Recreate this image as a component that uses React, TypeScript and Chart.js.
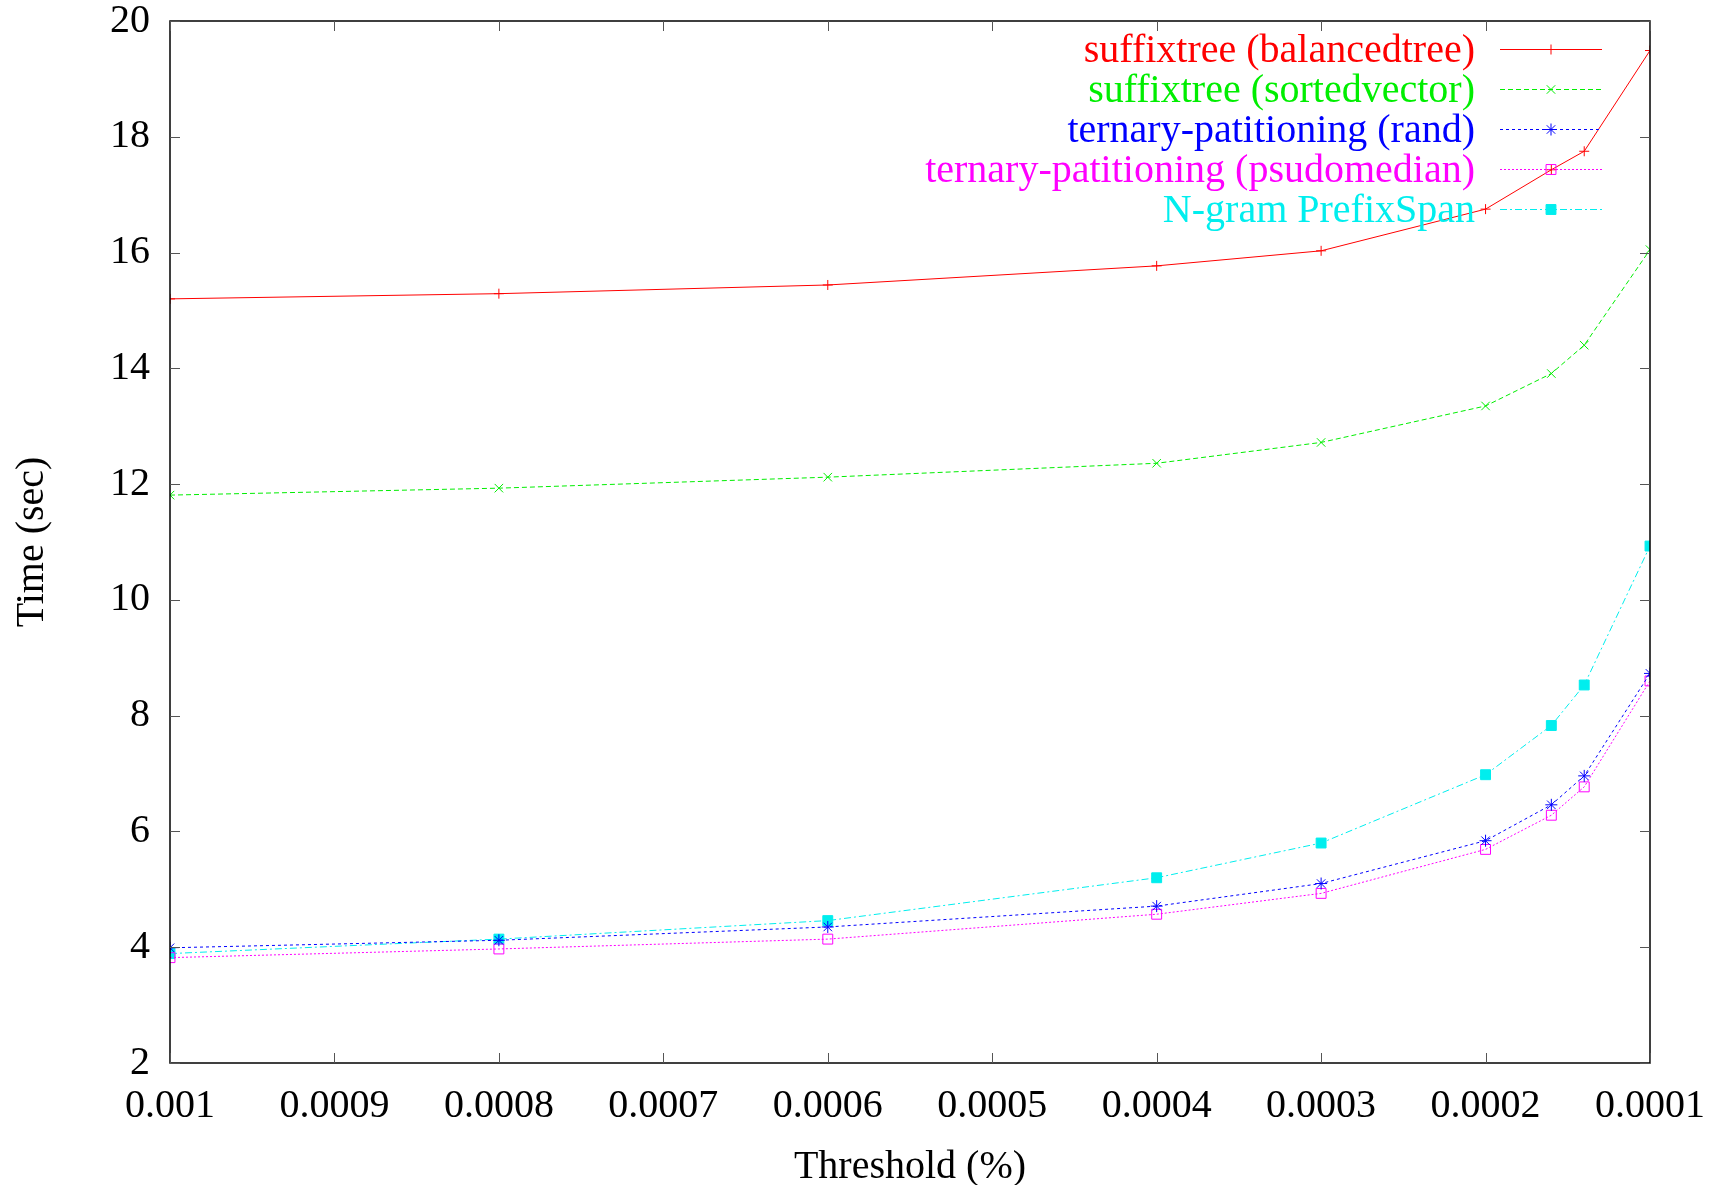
import React, { useEffect, useRef } from "react";
import { Chart, registerables } from "chart.js";

Chart.register(...registerables);

const THRESHOLDS = [0.001, 0.0008, 0.0006, 0.0004, 0.0003, 0.0002, 0.00016, 0.00014, 0.0001];
const BALANCED_TREE = [15.2, 15.29, 15.44, 15.77, 16.03, 16.75, 17.43, 17.75, 19.49];
const SORTED_VECTOR = [11.81, 11.93, 12.12, 12.36, 12.72, 13.35, 13.91, 14.4, 16.05];
const TERNARY_RAND = [3.99, 4.12, 4.35, 4.71, 5.1, 5.84, 6.46, 6.96, 8.73];
const TERNARY_PSUDOMEDIAN = [3.82, 3.97, 4.14, 4.57, 4.93, 5.69, 6.28, 6.77, 8.6];
const NGRAM_PREFIXSPAN = [3.89, 4.14, 4.46, 5.2, 5.8, 6.98, 7.83, 8.53, 10.93];

const SERIES_LABELS = [
  "suffixtree (balancedtree)",
  "suffixtree (sortedvector)",
  "ternary-patitioning (rand)",
  "ternary-patitioning (psudomedian)",
  "N-gram PrefixSpan",
];

const X_TICKS = [0.001, 0.0009, 0.0008, 0.0007, 0.0006, 0.0005, 0.0004, 0.0003, 0.0002, 0.0001];
const Y_TICKS = [2, 4, 6, 8, 10, 12, 14, 16, 18, 20];
const X_TITLE = "Threshold (%)";
const Y_TITLE = "Time (sec)";

const FONT = "'Liberation Serif', 'DejaVu Serif', 'Times New Roman', serif";

type Style = {
  color: string;
  dash: number[];
  marker: string;
  radius: number;
  fill: boolean;
};

const STYLES: Style[] = [
  { color: "#ff0000", dash: [], marker: "cross", radius: 5, fill: false },
  { color: "#00ee00", dash: [5, 3], marker: "crossRot", radius: 6, fill: false },
  { color: "#0000ff", dash: [3, 3], marker: "star", radius: 6, fill: false },
  { color: "#ff00ff", dash: [2, 2], marker: "rect", radius: 7, fill: false },
  { color: "#00eeee", dash: [7, 3, 2, 3], marker: "rect", radius: 7, fill: true },
];

const SERIES = [BALANCED_TREE, SORTED_VECTOR, TERNARY_RAND, TERNARY_PSUDOMEDIAN, NGRAM_PREFIXSPAN];

function fmtX(v: number): string {
  return String(parseFloat(Number(v).toFixed(5)));
}

function drawMarker(ctx: CanvasRenderingContext2D, s: Style, x: number, y: number) {
  ctx.save();
  ctx.setLineDash([]);
  ctx.strokeStyle = s.color;
  ctx.fillStyle = s.color;
  ctx.lineWidth = 1;
  const r = s.radius;
  ctx.beginPath();
  if (s.marker === "cross") {
    ctx.moveTo(x - r, y);
    ctx.lineTo(x + r, y);
    ctx.moveTo(x, y - r);
    ctx.lineTo(x, y + r);
    ctx.stroke();
  } else if (s.marker === "crossRot") {
    const o = r * Math.SQRT1_2;
    ctx.moveTo(x - o, y - o);
    ctx.lineTo(x + o, y + o);
    ctx.moveTo(x - o, y + o);
    ctx.lineTo(x + o, y - o);
    ctx.stroke();
  } else if (s.marker === "star") {
    const o = r * Math.SQRT1_2;
    ctx.moveTo(x - o, y - o);
    ctx.lineTo(x + o, y + o);
    ctx.moveTo(x - o, y + o);
    ctx.lineTo(x + o, y - o);
    ctx.moveTo(x - r, y);
    ctx.lineTo(x + r, y);
    ctx.moveTo(x, y - r);
    ctx.lineTo(x, y + r);
    ctx.stroke();
  } else {
    const h = r * Math.SQRT1_2;
    ctx.rect(x - h, y - h, 2 * h, 2 * h);
    if (s.fill) ctx.fill();
    ctx.stroke();
  }
  ctx.restore();
}

const framePlugin = {
  id: "frameAndLegend",
  afterDatasetsDraw(chart: any) {
    const ctx: CanvasRenderingContext2D = chart.ctx;
    const { left, right, top, bottom } = chart.chartArea;
    const xs = chart.scales.x;
    const ys = chart.scales.y;
    const tl = 10;
    ctx.save();
    ctx.setLineDash([]);
    ctx.strokeStyle = "#000";
    ctx.lineWidth = 1.5;
    ctx.strokeRect(left, top, right - left, bottom - top);
    ctx.lineWidth = 1;
    ctx.strokeStyle = "#555";
    ctx.beginPath();
    X_TICKS.forEach((v) => {
      const px = Math.round(xs.getPixelForValue(v)) + 0.5;
      ctx.moveTo(px, bottom);
      ctx.lineTo(px, bottom - tl);
      ctx.moveTo(px, top);
      ctx.lineTo(px, top + tl);
    });
    Y_TICKS.forEach((v) => {
      const py = Math.round(ys.getPixelForValue(v)) + 0.5;
      ctx.moveTo(left, py);
      ctx.lineTo(left + tl, py);
      ctx.moveTo(right, py);
      ctx.lineTo(right - tl, py);
    });
    ctx.stroke();

    // axis titles
    ctx.fillStyle = "#000";
    ctx.font = `40px ${FONT}`;
    ctx.textAlign = "center";
    ctx.textBaseline = "alphabetic";
    ctx.fillText(X_TITLE, (left + right) / 2, 1178);
    ctx.save();
    ctx.translate(43, (top + bottom) / 2);
    ctx.rotate(-Math.PI / 2);
    ctx.fillText(Y_TITLE, 0, 0);
    ctx.restore();

    // legend
    const textRight = 1475;
    const lineL = 1500;
    const lineR = 1602;
    const markX = 1551;
    SERIES_LABELS.forEach((label, i) => {
      const s = STYLES[i];
      const y = 49 + i * 40;
      ctx.fillStyle = s.color;
      ctx.textAlign = "right";
      ctx.textBaseline = "middle";
      ctx.font = `40px ${FONT}`;
      ctx.fillText(label, textRight, y + 2);
      ctx.strokeStyle = s.color;
      ctx.lineWidth = 1;
      ctx.setLineDash(s.dash);
      ctx.beginPath();
      ctx.moveTo(lineL, y + 0.5);
      ctx.lineTo(lineR, y + 0.5);
      ctx.stroke();
      ctx.setLineDash([]);
      drawMarker(ctx, s, markX, y + 0.5);
    });
    ctx.restore();
  },
};

function zeroPadding(s: any) {
  s.paddingTop = 0;
  s.paddingBottom = 0;
  s.paddingLeft = 0;
  s.paddingRight = 0;
}

export default function App() {
  const ref = useRef<HTMLCanvasElement | null>(null);
  useEffect(() => {
    const canvas = ref.current;
    if (!canvas) return;
    const datasets = SERIES.map((vals, i) => {
      const s = STYLES[i];
      return {
        label: SERIES_LABELS[i],
        data: THRESHOLDS.map((x, j) => ({ x, y: vals[j] })),
        borderColor: s.color,
        backgroundColor: s.fill ? s.color : "rgba(0,0,0,0)",
        borderWidth: 1,
        borderDash: s.dash,
        pointStyle: s.marker,
        pointRadius: s.radius,
        pointBorderWidth: 1,
        pointBorderColor: s.color,
        pointBackgroundColor: s.fill ? s.color : "rgba(0,0,0,0)",
        tension: 0,
        fill: false,
      };
    });
    const chart = new Chart(canvas, {
      type: "line",
      data: { datasets } as any,
      options: {
        animation: false,
        responsive: false,
        devicePixelRatio: 1,
        layout: { padding: { left: 0, right: 67, top: 21, bottom: 0 } },
        plugins: {
          legend: { display: false },
          tooltip: { enabled: false },
          title: { display: false },
        },
        scales: {
          x: {
            type: "linear",
            reverse: true,
            min: 0.0001,
            max: 0.001,
            afterBuildTicks: (s: any) => {
              s.ticks = X_TICKS.map((v) => ({ value: v }));
            },
            afterFit: (s: any) => {
              s.height = 122;
              zeroPadding(s);
            },
            grid: { display: false, drawTicks: false },
            border: { display: false },
            ticks: {
              autoSkip: false,
              maxRotation: 0,
              padding: 19,
              color: "#000",
              font: { family: FONT, size: 40 },
              callback: (v: any) => fmtX(v),
            },
          },
          y: {
            type: "linear",
            min: 2,
            max: 20,
            afterBuildTicks: (s: any) => {
              s.ticks = Y_TICKS.map((v) => ({ value: v }));
            },
            afterFit: (s: any) => {
              s.width = 170;
              zeroPadding(s);
            },
            grid: { display: false, drawTicks: false },
            border: { display: false },
            ticks: {
              padding: 20,
              color: "#000",
              font: { family: FONT, size: 40 },
            },
          },
        },
      } as any,
      plugins: [framePlugin],
    });
    return () => chart.destroy();
  }, []);
  return (
    <div style={{ position: "absolute", left: 0, top: 0, width: 1717, height: 1185, background: "#fff" }}>
      <canvas ref={ref} width={1717} height={1185} style={{ width: 1717, height: 1185, display: "block" }} />
    </div>
  );
}
